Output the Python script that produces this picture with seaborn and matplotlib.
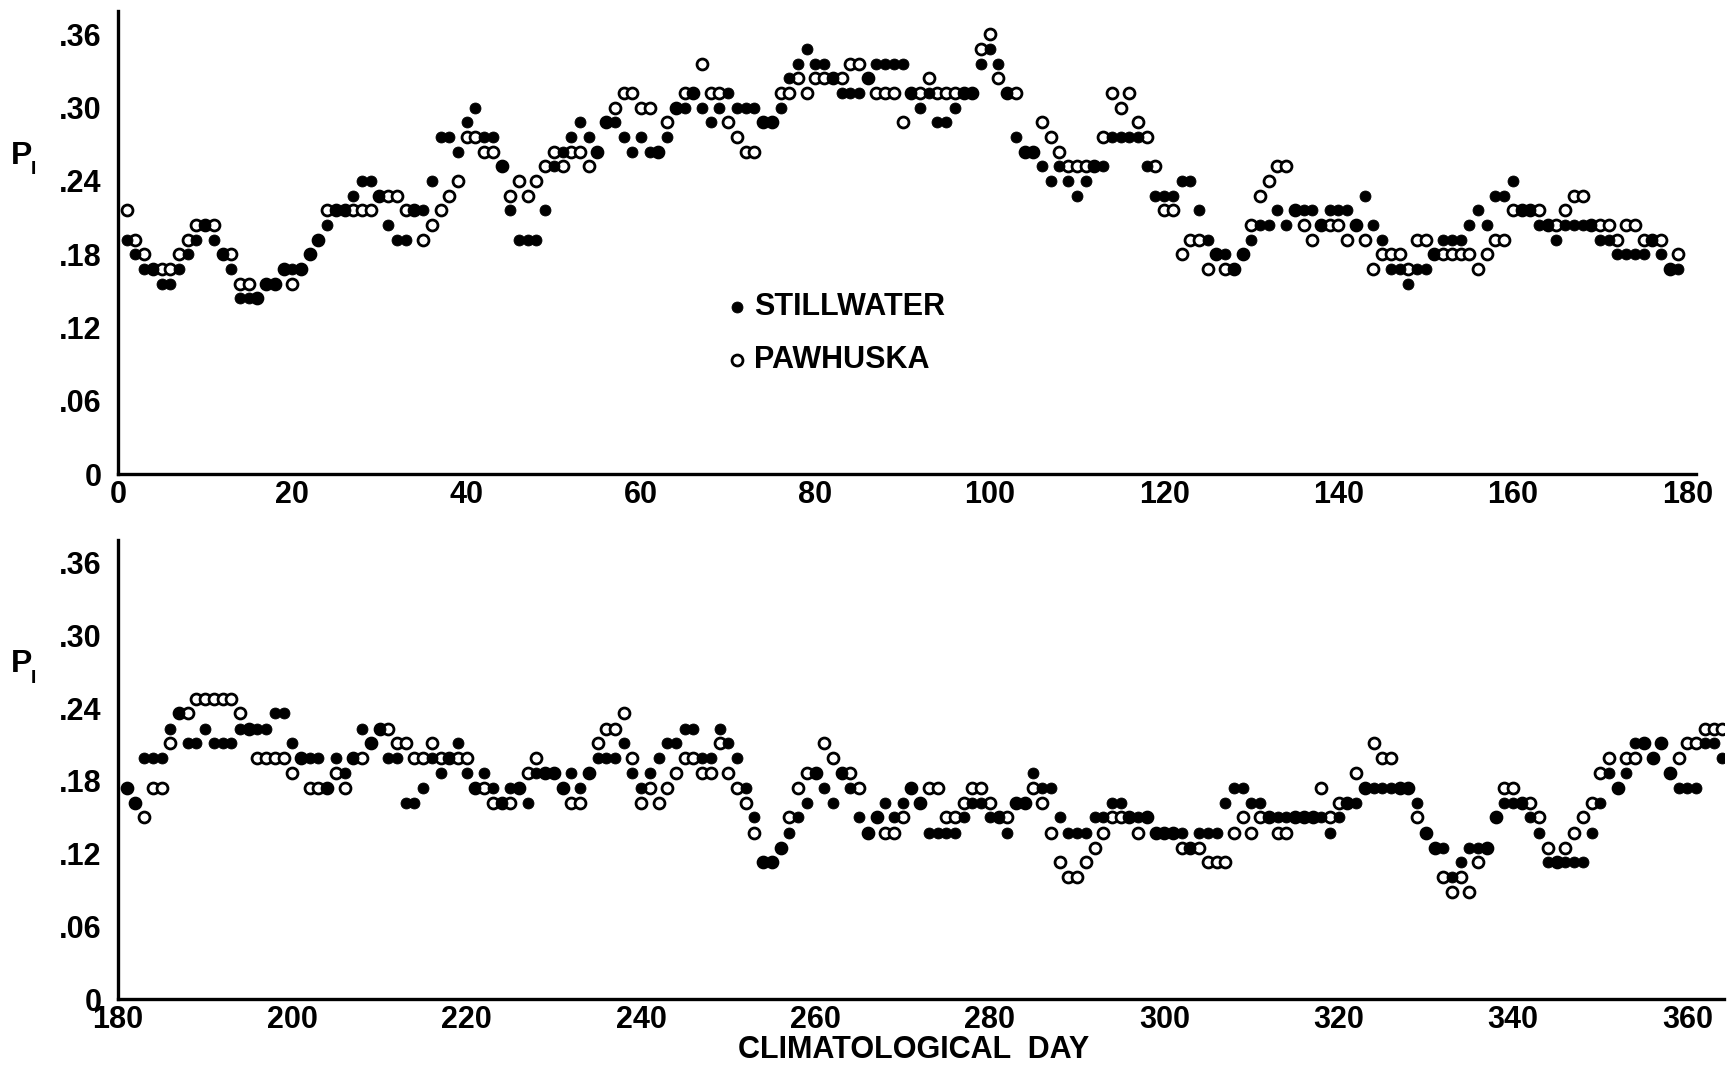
import numpy as np
import pandas as pd
import matplotlib
matplotlib.use("Agg")
import matplotlib.pyplot as plt
import seaborn as sns
from matplotlib import font_manager

# ---------------- data ----------------
top_days = list(range(1, 180))
top_stillwater = [
    .192, .180, .168, .168, .156, .156, .168, .180, .192, .204,
    .192, .180, .168, .144, .144, .144, .156, .156, .168, .168,
    .168, .180, .192, .204, .216, .216, .228, .240, .240, .228,
    .204, .192, .192, .216, .216, .240, .276, .276, .264, .288,
    .300, .276, .276, .252, .216, .192, .192, .192, .216, .252,
    .264, .276, .288, .276, .264, .288, .288, .276, .264, .276,
    .264, .264, .276, .300, .300, .312, .300, .288, .300, .312,
    .300, .300, .300, .288, .288, .300, .324, .336, .348, .336,
    .336, .324, .312, .312, .312, .324, .336, .336, .336, .336,
    .312, .300, .312, .288, .288, .300, .312, .312, .336, .348,
    .336, .312, .276, .264, .264, .252, .240, .252, .240, .228,
    .240, .252, .252, .276, .276, .276, .276, .252, .228, .228,
    .228, .240, .240, .216, .192, .180, .180, .168, .180, .192,
    .204, .204, .216, .204, .216, .216, .216, .204, .216, .216,
    .216, .204, .228, .204, .192, .168, .168, .156, .168, .168,
    .180, .192, .192, .192, .204, .216, .204, .228, .228, .240,
    .216, .216, .204, .204, .192, .204, .204, .204, .204, .192,
    .192, .180, .180, .180, .180, .192, .180, .168, .168]
top_pawhuska = [
    .216, .192, .180, .168, .168, .168, .180, .192, .204, .204,
    .204, .180, .180, .156, .156, .144, .156, .156, .168, .156,
    .168, .180, .192, .216, .216, .216, .216, .216, .216, .228,
    .228, .228, .216, .216, .192, .204, .216, .228, .240, .276,
    .276, .264, .264, .252, .228, .240, .228, .240, .252, .264,
    .252, .264, .264, .252, .264, .288, .300, .312, .312, .300,
    .300, .264, .288, .300, .312, .312, .336, .312, .312, .288,
    .276, .264, .264, .288, .288, .312, .312, .324, .312, .324,
    .324, .324, .324, .336, .336, .324, .312, .312, .312, .288,
    .312, .312, .324, .312, .312, .312, .312, .312, .348, .360,
    .324, .312, .312, .264, .264, .288, .276, .264, .252, .252,
    .252, .252, .276, .312, .300, .312, .288, .276, .252, .216,
    .216, .180, .192, .192, .168, .180, .168, .168, .180, .204,
    .228, .240, .252, .252, .216, .204, .192, .204, .204, .204,
    .192, .204, .192, .168, .180, .180, .180, .168, .192, .192,
    .180, .180, .180, .180, .180, .168, .180, .192, .192, .216,
    .216, .216, .216, .204, .204, .216, .228, .228, .204, .204,
    .204, .192, .204, .204, .192, .192, .192, .168, .180]

bottom_days = list(range(181, 365))
bottom_stillwater = [
    .174, .162, .199, .199, .199, .223, .236, .211, .211, .223,
    .211, .211, .211, .223, .223, .223, .223, .236, .236, .211,
    .199, .199, .199, .174, .199, .187, .199, .223, .211, .223,
    .199, .199, .162, .162, .174, .199, .187, .199, .211, .187,
    .174, .187, .174, .162, .174, .174, .162, .187, .187, .187,
    .174, .187, .174, .187, .199, .199, .199, .211, .187, .174,
    .187, .199, .211, .211, .223, .223, .199, .199, .223, .211,
    .199, .174, .150, .113, .113, .125, .137, .150, .162, .187,
    .174, .162, .187, .174, .150, .137, .150, .162, .150, .162,
    .174, .162, .137, .137, .137, .137, .150, .162, .162, .150,
    .150, .137, .162, .162, .187, .174, .174, .150, .137, .137,
    .137, .150, .150, .162, .162, .150, .150, .150, .137, .137,
    .137, .137, .125, .137, .137, .137, .162, .174, .174, .162,
    .162, .150, .150, .150, .150, .150, .150, .150, .137, .150,
    .162, .162, .174, .174, .174, .174, .174, .174, .162, .137,
    .125, .125, .101, .113, .125, .125, .125, .150, .162, .162,
    .162, .150, .137, .113, .113, .113, .113, .113, .137, .162,
    .187, .174, .187, .211, .211, .199, .211, .187, .174, .174,
    .174, .211, .211, .199]
bottom_pawhuska = [
    .174, .162, .150, .174, .174, .211, .236, .236, .248, .248,
    .248, .248, .248, .236, .223, .199, .199, .199, .199, .187,
    .199, .174, .174, .174, .187, .174, .199, .199, .211, .223,
    .223, .211, .211, .199, .199, .211, .199, .199, .199, .199,
    .174, .174, .162, .162, .162, .174, .187, .199, .187, .187,
    .174, .162, .162, .187, .211, .223, .223, .236, .199, .162,
    .174, .162, .174, .187, .199, .199, .187, .187, .211, .187,
    .174, .162, .137, .113, .113, .125, .150, .174, .187, .187,
    .211, .199, .187, .187, .174, .137, .150, .137, .137, .150,
    .174, .162, .174, .174, .150, .150, .162, .174, .174, .162,
    .150, .150, .162, .162, .174, .162, .137, .113, .101, .101,
    .113, .125, .137, .150, .150, .150, .137, .150, .137, .137,
    .137, .125, .125, .125, .113, .113, .113, .137, .150, .137,
    .150, .150, .137, .137, .150, .150, .150, .174, .150, .162,
    .162, .187, .174, .211, .199, .199, .174, .174, .150, .137,
    .125, .101, .088, .101, .088, .113, .125, .150, .174, .174,
    .162, .162, .150, .125, .113, .125, .137, .150, .162, .187,
    .199, .174, .199, .199, .211, .199, .211, .187, .199, .211,
    .211, .223, .223, .223]

series_names = ["STILLWATER", "PAWHUSKA"]
y_ticks = [0, 0.06, 0.12, 0.18, 0.24, 0.30, 0.36]
y_ticklabels = ["0", ".06", ".12", ".18", ".24", ".30", ".36"]
top_xticks = list(range(0, 181, 20))
bottom_xticks = list(range(180, 361, 20))
x_label = "CLIMATOLOGICAL  DAY"

# ---------------- style ----------------
sns.set_theme(style="white")
names = {f.name for f in font_manager.fontManager.ttflist}
fam = "Liberation Sans Narrow" if "Liberation Sans Narrow" in names else "Liberation Sans"
plt.rcParams["font.family"] = [fam, "DejaVu Sans"]
plt.rcParams["font.weight"] = "bold"
plt.rcParams["text.color"] = "black"

fig = plt.figure(figsize=(17.27, 10.68), dpi=100)
fig.patch.set_facecolor("white")
ax1 = fig.add_axes([0.0683, 0.556, 0.9137, 0.4337])
ax2 = fig.add_axes([0.0683, 0.0646, 0.930, 0.4298])

top = pd.DataFrame({"day": top_days, series_names[0]: top_stillwater,
                    series_names[1]: top_pawhuska})
bot = pd.DataFrame({"day": bottom_days, series_names[0]: bottom_stillwater,
                    series_names[1]: bottom_pawhuska})

handles = None
for ax, df, xt, xl in [(ax1, top, top_xticks, (0, 181)),
                       (ax2, bot, bottom_xticks, (180, 364.2))]:
    sns.scatterplot(data=df, x="day", y=series_names[1], ax=ax, marker="o",
                    s=62, color="white", edgecolor="black", linewidth=2.0,
                    label=series_names[1], zorder=3)
    sns.scatterplot(data=df, x="day", y=series_names[0], ax=ax, marker="o",
                    s=62, color="black", edgecolor="black", linewidth=0.6,
                    label=series_names[0], zorder=4)
    ax.collections[0].set_facecolor("white")
    ax.collections[0].set_edgecolor("black")
    ax.set_xlim(*xl)
    ax.set_ylim(0, 0.379)
    ax.set_xticks(xt)
    ax.set_xticklabels([str(v) for v in xt])
    ax.set_yticks(y_ticks)
    ax.set_yticklabels(y_ticklabels)
    ax.set_xlabel("")
    ax.set_ylabel("")
    for side in ["top", "right"]:
        ax.spines[side].set_visible(False)
    for side in ["left", "bottom"]:
        ax.spines[side].set_linewidth(2.4)
        ax.spines[side].set_color("black")
    ax.tick_params(axis="both", direction="in", length=11, width=2.6,
                   colors="black", labelsize=22)
    ax.tick_params(axis="y", pad=12)
    ax.tick_params(axis="x", pad=4)
    for lab in ax.get_xticklabels() + ax.get_yticklabels():
        lab.set_fontweight("bold")
    ax.set_facecolor("white")
    if ax is ax1:
        handles = ax.collections[:2]
    leg = ax.get_legend()
    if leg is not None:
        leg.remove()

ax1.legend(handles=[handles[1], handles[0]], labels=series_names,
           loc="upper left", bbox_to_anchor=(0.369, 0.452), frameon=False,
           handlelength=0.6, handletextpad=0.25, labelspacing=0.75,
           labelcolor="black",
           prop={"family": [fam, "DejaVu Sans"], "weight": "bold", "size": 22})

for ytop in [0.854, 0.378]:
    fig.text(0.0065, ytop, "P", fontsize=23, fontweight="bold", va="center",
             color="black")
    fig.text(0.0180, ytop - 0.013, "I", fontsize=14, fontweight="bold",
             va="center", color="black")

fig.text(0.529, 0.017, x_label, fontsize=22, fontweight="bold", ha="center",
         va="center", color="black")

fig.savefig("out.png", dpi=100, facecolor="white")
